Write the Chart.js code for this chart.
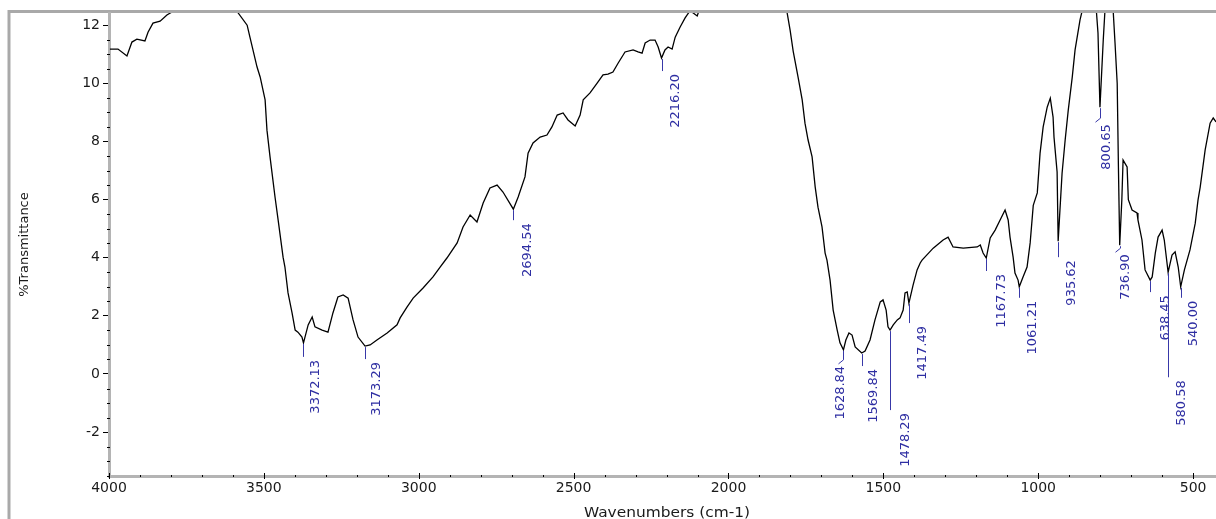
<!DOCTYPE html>
<html>
<head>
<meta charset="utf-8">
<title>IR spectrum</title>
<script src="https://cdn.jsdelivr.net/npm/chart.js@4.4.1/dist/chart.umd.min.js"></script>
<style>
  html, body { margin: 0; padding: 0; background: #fff; }
  canvas { display: block; }
</style>
</head>
<body>
<canvas id="ir" width="1216" height="519"></canvas>
<script>
// Spectrum: wavenumber (cm-1) and %T, high to low wavenumber
const wavenumbers = [
  3997, 3971, 3942, 3926, 3910, 3884, 3874, 3858, 3835, 3813, 3793, 3760, 3706, 3642, 3600, 3583,
  3554, 3545, 3522, 3512, 3496, 3490, 3480, 3464, 3454, 3438, 3432, 3422, 3409, 3399, 3390, 3377,
  3372.13, 3357, 3344, 3335, 3312, 3293, 3277, 3261, 3244, 3228, 3212, 3196, 3173.29, 3157, 3135,
  3102, 3070, 3060, 3038, 3018, 2986, 2954, 2931, 2909, 2876, 2857, 2834, 2812, 2792, 2770, 2747,
  2728, 2694.54, 2679, 2657, 2647, 2631, 2608, 2586, 2570, 2553, 2534, 2518, 2495, 2479, 2469, 2447,
  2424, 2405, 2389, 2373, 2356, 2334, 2308, 2292, 2279, 2269, 2253, 2237, 2227, 2216.20, 2205, 2195,
  2182, 2172, 2156, 2140, 2124, 2101, 2092, 2030, 1950, 1880, 1820, 1811, 1801, 1791, 1775, 1762,
  1753, 1743, 1730, 1720, 1711, 1698, 1688, 1682, 1672, 1662, 1649, 1640, 1628.84, 1621, 1611, 1601,
  1591, 1569.84, 1559, 1543, 1527, 1510, 1501, 1491, 1485, 1478.29, 1468, 1455, 1446, 1436, 1430,
  1423, 1417.49, 1404, 1391, 1381, 1375, 1339, 1307, 1291, 1275, 1242, 1197, 1187, 1178, 1167.73,
  1155, 1139, 1123, 1107, 1097, 1091, 1081, 1075, 1065, 1061.21, 1049, 1036, 1026, 1016, 1003, 994,
  984, 971, 961, 952, 949, 939, 935.62, 923, 913, 903, 890, 881, 865, 858, 832, 813, 807, 800.65,
  790, 784, 768, 758, 752, 745, 741, 736.90, 730, 726, 713, 709, 697, 681, 678, 665, 655, 638.45,
  632, 622, 613, 600, 593, 580.58, 568, 558, 548, 540.00, 528, 510, 493, 484, 477, 461, 445, 435, 426
];
const transmittance = [
  11.18, 11.18, 10.94, 11.42, 11.52, 11.46, 11.76, 12.07, 12.14, 12.35, 12.48, 12.75, 12.95, 13.0, 12.75, 12.42,
  12.00, 11.59, 10.56, 10.22, 9.43, 8.39, 7.46, 6.09, 5.30, 4.02, 3.68, 2.79, 2.10, 1.51, 1.44, 1.27,
  1.07, 1.69, 1.96, 1.62, 1.51, 1.44, 2.10, 2.65, 2.72, 2.61, 1.86, 1.27, 0.96, 1.00, 1.17,
  1.41, 1.69, 1.93, 2.30, 2.61, 2.96, 3.34, 3.68, 3.99, 4.51, 5.06, 5.47, 5.23, 5.88, 6.40, 6.50,
  6.26, 5.67, 6.09, 6.78, 7.60, 7.95, 8.15, 8.22, 8.50, 8.91, 8.98, 8.74, 8.53, 8.91, 9.43, 9.67,
  10.01, 10.29, 10.32, 10.39, 10.70, 11.08, 11.15, 11.08, 11.04, 11.39, 11.49, 11.49, 11.25, 10.87, 11.15, 11.25,
  11.18, 11.59, 11.94, 12.25, 12.50, 12.32, 12.60, 13.1, 13.4, 13.3, 12.8, 12.45, 11.83, 11.10, 10.20, 9.43,
  8.63, 8.05, 7.47, 6.43, 5.74, 5.06, 4.16, 3.92, 3.23, 2.20, 1.51, 1.07, 0.83, 1.17, 1.41, 1.34,
  0.93, 0.72, 0.79, 1.17, 1.86, 2.48, 2.55, 2.20, 1.62, 1.51, 1.69, 1.86, 1.93, 2.20, 2.79,
  2.82, 2.44, 3.06, 3.58, 3.82, 3.92, 4.33, 4.61, 4.71, 4.37, 4.33, 4.37, 4.44, 4.16, 3.99,
  4.68, 4.95, 5.30, 5.64, 5.30, 4.71, 4.02, 3.47, 3.23, 3.00, 3.34, 3.68, 4.51, 5.80, 6.23, 7.60,
  8.50, 9.18, 9.49, 8.84, 8.15, 6.95, 4.57, 6.90, 8.05, 9.08, 10.22, 11.15, 12.18, 12.50, 13.0, 12.6, 11.73, 9.18,
  11.49, 12.6, 13.0, 12.5, 11.39, 10.00, 7.10, 4.43, 6.00, 7.36, 7.12, 6.00, 5.64, 5.54, 5.30, 4.61, 3.58, 3.23,
  3.34, 4.16, 4.71, 4.95, 4.61, 3.50, 4.09, 4.20, 3.68, 3.00, 3.58, 4.27, 5.19, 5.99, 6.43, 7.71, 8.63, 8.81, 8.67
];

// Labelled peaks
const peakWavenumbers = [3372.13, 3173.29, 2694.54, 2216.20, 1628.84, 1569.84, 1478.29, 1417.49,
  1167.73, 1061.21, 935.62, 800.65, 736.90, 638.45, 580.58, 540.00];
const peakLabels = ['3372.13', '3173.29', '2694.54', '2216.20', '1628.84', '1569.84', '1478.29', '1417.49',
  '1167.73', '1061.21', '935.62', '800.65', '736.90', '638.45', '580.58', '540.00'];

// Axis ticks
const xTickValues = [4000, 3500, 3000, 2500, 2000, 1500, 1000, 500];
const yTickValues = [-2, 0, 2, 4, 6, 8, 10, 12];

const FONT = '"DejaVu Sans", "Liberation Sans", sans-serif';
Chart.defaults.font.family = FONT;

// Leader line length (px), label offset across the line (px), bent leader flag
const peakLayout = {
  leader: [14, 13, 11, 13, 10, 13, 80, 20, 13, 11, 16, 11, 3, 12, 105, 11],
  shift:  [11, 10, 13, 12, -4, 10, 14, 12, 14, 12, 12, 5, 4, 14, 12, 11],
  bend:   [0, 0, 0, 0, 1, 0, 0, 0, 0, 0, 0, 1, 1, 0, 0, 0]
};

// Outer window frame
const framePlugin = {
  id: 'frame',
  beforeDraw(chart) {
    const ctx = chart.ctx;
    ctx.save();
    ctx.fillStyle = '#fff';
    ctx.fillRect(0, 0, chart.width, chart.height);
    ctx.strokeStyle = '#a9a9a9';
    ctx.lineWidth = 3;
    ctx.beginPath();
    ctx.moveTo(9, chart.height);
    ctx.lineTo(9, 11.5);
    ctx.lineTo(chart.width, 11.5);
    ctx.stroke();
    ctx.restore();
  }
};

// Minor ticks on both axes, major ticks on the wavenumber axis, axis titles
const axisDetailPlugin = {
  id: 'axisDetail',
  afterDraw(chart) {
    const { ctx, chartArea, scales: { x, y } } = chart;
    ctx.save();
    ctx.strokeStyle = '#000';
    ctx.lineWidth = 1;
    ctx.beginPath();
    for (let v = 500; v <= 4000; v += 100) {
      const px = Math.round(x.getPixelForValue(v)) + 0.5;
      if (v % 500 === 0) {
        ctx.moveTo(px, chartArea.bottom - 3);
        ctx.lineTo(px, chartArea.bottom + 3);
      } else {
        ctx.moveTo(px, chartArea.bottom - 1);
        ctx.lineTo(px, chartArea.bottom + 1);
      }
    }
    for (let v = -3.5; v <= 12.4; v += 0.5) {
      if (Math.abs(v % 2) < 1e-9) continue;
      const py = Math.round(y.getPixelForValue(v)) + 0.5;
      ctx.moveTo(chartArea.left - 2, py);
      ctx.lineTo(chartArea.left + 1, py);
    }
    ctx.stroke();

    ctx.fillStyle = '#1a1a1a';
    // y title
    ctx.save();
    ctx.translate(25, (chartArea.top + chartArea.bottom) / 2);
    ctx.rotate(-Math.PI / 2);
    ctx.font = '13px ' + FONT;
    ctx.textAlign = 'center';
    ctx.textBaseline = 'middle';
    ctx.fillText('%Transmittance', 0, 0);
    ctx.restore();
    // x title
    ctx.save();
    ctx.translate(667, 513);
    ctx.scale(1.1, 1);
    ctx.font = '14px ' + FONT;
    ctx.textAlign = 'center';
    ctx.textBaseline = 'middle';
    ctx.fillText('Wavenumbers (cm-1)', 0, 0);
    ctx.restore();
    ctx.restore();
  }
};

// Peak leader lines and rotated wavenumber labels
const peakMarkerPlugin = {
  id: 'peakMarker',
  afterDatasetsDraw(chart) {
    const { ctx, scales: { x, y } } = chart;
    ctx.save();
    ctx.font = '13px ' + FONT;
    peakWavenumbers.forEach((wn, i) => {
      const t = transmittance[wavenumbers.indexOf(wn)];
      const px = Math.round(x.getPixelForValue(wn)) + 0.5;
      const py = y.getPixelForValue(t);
      const end = py + peakLayout.leader[i];
      let textTop = end + 3;
      ctx.strokeStyle = '#3838a8';
      ctx.lineWidth = 1;
      ctx.beginPath();
      ctx.moveTo(px, py + 1);
      ctx.lineTo(px, end);
      if (peakLayout.bend[i]) {
        ctx.lineTo(px - 5, end + 4);
        textTop = end + 6;
      }
      ctx.stroke();
      ctx.save();
      ctx.translate(px + peakLayout.shift[i] + 4.75, textTop);
      ctx.rotate(-Math.PI / 2);
      ctx.textAlign = 'right';
      ctx.textBaseline = 'alphabetic';
      ctx.fillStyle = '#2e2ea2';
      ctx.fillText(peakLabels[i], 0, 0);
      ctx.restore();
    });
    ctx.restore();
  }
};

new Chart(document.getElementById('ir'), {
  type: 'scatter',
  data: {
    datasets: [{
      data: wavenumbers.map((w, i) => ({ x: w, y: transmittance[i] })),
      showLine: true,
      borderColor: '#000',
      borderWidth: 1.3,
      pointRadius: 0,
      tension: 0,
      clip: 0
    }]
  },
  options: {
    responsive: false,
    animation: false,
    devicePixelRatio: 1,
    layout: { padding: { top: 13, left: 0, right: 0, bottom: 0 } },
    plugins: { legend: { display: false }, tooltip: { enabled: false } },
    scales: {
      x: {
        type: 'linear',
        reverse: true,
        min: 426,
        max: 4000,
        afterBuildTicks: s => { s.ticks = xTickValues.map(v => ({ value: v })); },
        afterFit: s => { s.height = 43; },
        grid: { display: true, drawOnChartArea: false, drawTicks: false },
        border: { display: true, color: '#b4b4b4', width: 3 },
        ticks: { padding: 4, maxRotation: 0, autoSkip: false, color: '#1a1a1a',
                 font: { size: 14 }, callback: v => String(v) }
      },
      y: {
        type: 'linear',
        min: -3.51,
        max: 12.42,
        afterBuildTicks: s => { s.ticks = yTickValues.map(v => ({ value: v })); },
        afterFit: s => { s.width = 109; },
        grid: { display: true, drawOnChartArea: false, drawTicks: true, tickLength: 6,
                tickColor: '#000', tickWidth: 1 },
        border: { display: true, color: '#b4b4b4', width: 3 },
        ticks: { padding: 3, color: '#1a1a1a', font: { size: 14 }, callback: v => String(v) }
      }
    }
  },
  plugins: [framePlugin, axisDetailPlugin, peakMarkerPlugin]
});
</script>
</body>
</html>
